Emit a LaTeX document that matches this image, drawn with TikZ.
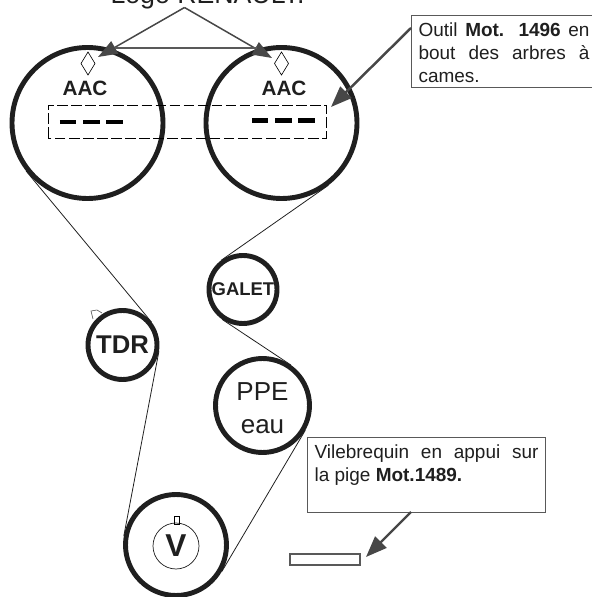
\documentclass[tikz,border=0pt]{standalone}
\usepackage{fontspec}
\setmainfont{Liberation Sans}
\usetikzlibrary{arrows.meta}
\definecolor{beltline}{gray}{0.12}
\definecolor{boxline}{gray}{0.35}
\definecolor{leadline}{gray}{0.28}
\newcommand{\notetop}{\rule{0pt}{11pt}}
\tikzset{
	pulley/.style={circle, draw=beltline, line width=2.8pt, inner sep=0pt, text=beltline},
	belt/.style={draw=beltline, line width=0.45pt},
	lead/.style={draw=leadline, line width=1.4pt, -{Triangle[length=12pt, width=9pt]}},
	toplead/.style={draw=leadline, line width=0.85pt, -{Triangle[length=11pt, width=8pt]}},
	note/.style={draw=boxline, line width=0.6pt, inner xsep=4pt, inner ysep=1pt, text=beltline, font=\fontsize{10.8}{13}\selectfont, align=justify, anchor=north west},
}
\begin{document}
\begin{tikzpicture}
		\useasboundingbox (0,0) rectangle (11.82, 11.94);

		% marks behind the pulleys
		\draw[boxline, line width=0.35pt] (2.04, 5.68) -- (1.94, 5.74) -- (1.82, 5.72) -- (1.86, 5.56);

		% pulleys
		\node[pulley, minimum size=3.02cm] (aacg) at (1.75, 9.48) {};
		\node[pulley, minimum size=3.02cm] (aacd) at (5.63, 9.48) {};
		\node[pulley, minimum size=1.36cm, font=\bfseries\fontsize{10.5}{12}\selectfont] (galet) at (4.86, 6.15) {GALET};
		\node[pulley, minimum size=1.88cm] (ppe) at (5.25, 3.83) {};
		\node[text=beltline, align=center, font=\fontsize{14.8}{18.7}\selectfont] (ppetxt) at (5.25, 3.77) {PPE\\eau};
		\node[pulley, minimum size=1.38cm, font=\bfseries\fontsize{14.6}{17}\selectfont] (tdr) at (2.45, 5.04) {TDR};
		\node[pulley, minimum size=2.02cm] (vil) at (3.52, 1.04) {};
		\node[circle, draw=beltline, line width=0.4pt, inner sep=0pt, minimum size=0.92cm, text=beltline, font=\bfseries\fontsize{18}{20}\selectfont] (vilcentre) at (3.52, 1.02) {V};

		% belt
		\draw[belt] (aacg.218) -- (tdr.38);
		\draw[belt] (tdr.350) -- (vil.170);
		\draw[belt] (vil.330) -- (ppe.330);
		\draw[belt] (ppe.55) -- (galet.235);
		\draw[belt] (galet.127) -- (aacd.307);

		% marks on the pulleys
		\draw[black, line width=0.35pt] (1.76, 10.90) -- (1.90, 10.67) -- (1.76, 10.44) -- (1.62, 10.67) -- cycle;
		\draw[black, line width=0.35pt] (5.63, 10.90) -- (5.77, 10.67) -- (5.63, 10.44) -- (5.49, 10.67) -- cycle;
		\draw[black, line width=0.35pt] (3.48, 1.46) rectangle (3.58, 1.62);

		% camshaft labels and tool
		\node[text=beltline, font=\bfseries\fontsize{11.8}{13}\selectfont] (aacgtxt) at (1.70, 10.18) {AAC};
		\node[text=beltline, font=\bfseries\fontsize{11.8}{13}\selectfont] (aacdtxt) at (5.68, 10.18) {AAC};
		\draw[black, line width=0.4pt, dash pattern=on 6pt off 2pt] (0.96, 9.18) rectangle (6.52, 9.84);
		\draw[black, line width=2.6pt, dash pattern=on 9.3pt off 3.9pt] (1.20, 9.50) -- (2.46, 9.50);
		\draw[black, line width=2.6pt, dash pattern=on 9.3pt off 3.9pt] (5.04, 9.53) -- (6.30, 9.53);

		% top label
		\node[text=beltline, font=\fontsize{15.2}{17}\selectfont, anchor=base] (logo) at (4.15, 11.86) {Logo RENAULT.};
		\coordinate (logotip) at (3.69, 11.79);
		\coordinate (logog) at (1.96, 10.80);
		\coordinate (logod) at (5.44, 10.78);
		\draw[toplead] (logotip) -- (logog);
		\draw[toplead] (logotip) -- (logod);
		\draw[boxline, line width=0.8pt] (2.30, 10.98) -- (5.14, 10.98);

		% notes
		\node[note, text width=3.42cm] (outil) at (8.22, 11.64) {\notetop Outil \textbf{Mot. 1496} en bout des arbres à cames.\rule[-2pt]{0pt}{2pt}};
		\coordinate (outiltail) at (8.22, 11.38);
		\coordinate (outiltip) at (6.62, 9.80);
		\draw[lead] (outiltail) -- (outiltip);
		\node[note, text width=4.48cm] (vilnote) at (6.14, 3.20) {\notetop\makebox[\linewidth][s]{Vilebrequin en appui sur}\\la pige \textbf{Mot.1489.}\\\strut};
		\node[draw=boxline, line width=1.4pt, inner sep=0pt, minimum width=1.4cm, minimum height=0.22cm] (pige) at (6.5, 0.75) {};
		\coordinate (viltail) at (8.22, 1.70);
		\coordinate (viltip) at (7.32, 0.80);
		\draw[lead] (viltail) -- (viltip);
	\end{tikzpicture}
\end{document}
